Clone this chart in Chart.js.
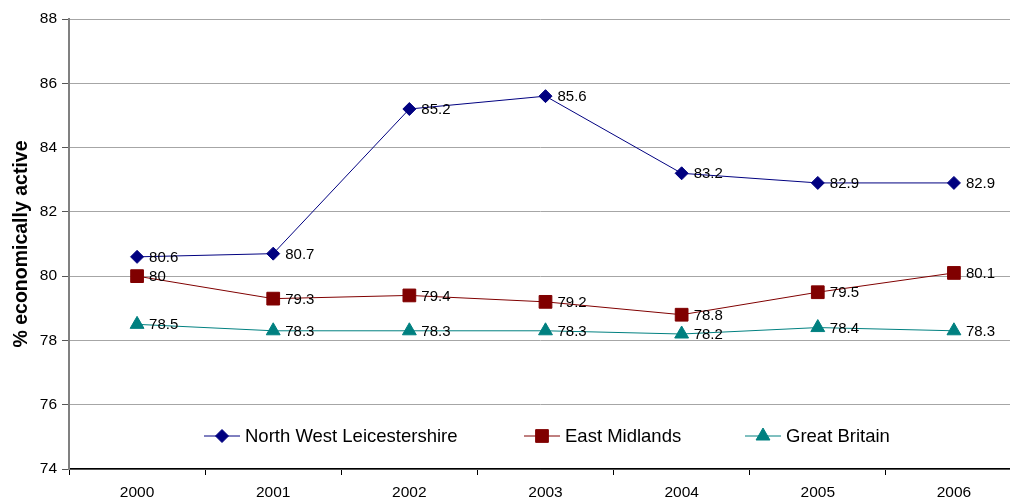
<!DOCTYPE html>
<html lang="en">
<head>
    <meta charset="UTF-8">
    <title>Economic activity rate</title>
    <script src="https://cdn.jsdelivr.net/npm/chart.js"></script>
    <style>
        html, body {
            margin: 0;
            padding: 0;
            overflow: hidden;
            background: #fff;
        }
        canvas {
            display: block;
        }
    </style>
</head>
<body>
    <canvas id="activityChart" width="1010" height="500"></canvas>

    <script>
        const years = ['2000', '2001', '2002', '2003', '2004', '2005', '2006'];
        const northWestLeics = [80.6, 80.7, 85.2, 85.6, 83.2, 82.9, 82.9];
        const eastMidlands = [80, 79.3, 79.4, 79.2, 78.8, 79.5, 80.1];
        const greatBritain = [78.5, 78.3, 78.3, 78.3, 78.2, 78.4, 78.3];
        const seriesNames = ['North West Leicestershire', 'East Midlands', 'Great Britain'];

        const FONT = "'Liberation Sans', Arial, sans-serif";

        function series(label, data, color, style, radius) {
            return {
                label: label,
                data: data,
                borderColor: color,
                backgroundColor: color,
                borderWidth: 1,
                pointStyle: style,
                pointRadius: radius,
                pointHoverRadius: radius,
                pointBorderWidth: 1,
                tension: 0
            };
        }

        // the original is cropped: its plot area runs ~12px past the right edge
        const widePlot = {
            id: 'widePlot',
            afterLayout(chart) {
                const right = 1022;
                const x = chart.scales.x;
                chart.chartArea.right = right;
                chart.chartArea.width = right - chart.chartArea.left;
                x.right = right;
                x.width = right - x.left;
                x.configure();
            }
        };

        // value labels to the right of each point
        const valueLabels = {
            id: 'valueLabels',
            afterDatasetsDraw(chart) {
                const c = chart.ctx;
                c.save();
                c.font = '15px ' + FONT;
                c.fillStyle = '#000';
                c.textAlign = 'left';
                c.textBaseline = 'middle';
                chart.data.datasets.forEach((ds, i) => {
                    chart.getDatasetMeta(i).data.forEach((pt, j) => {
                        c.fillText(String(ds.data[j]), pt.x + 12, pt.y + 1);
                    });
                });
                c.restore();
            }
        };

        // legend drawn inside the plot, near the bottom
        const innerLegend = {
            id: 'innerLegend',
            afterDraw(chart) {
                const c = chart.ctx;
                const y = 436;
                const starts = [204, 524, 745];
                c.save();
                c.font = '18.5px ' + FONT;
                c.textBaseline = 'middle';
                c.textAlign = 'left';
                chart.data.datasets.forEach((ds, i) => {
                    const x0 = starts[i];
                    c.strokeStyle = ds.borderColor;
                    c.fillStyle = ds.backgroundColor;
                    c.lineWidth = 1;
                    c.beginPath();
                    c.moveTo(x0, y);
                    c.lineTo(x0 + 36, y);
                    c.stroke();
                    Chart.helpers.drawPoint(c, {
                        pointStyle: ds.pointStyle,
                        radius: ds.pointRadius,
                        rotation: 0,
                        borderWidth: 1
                    }, x0 + 18, y);
                    c.fillStyle = '#000';
                    c.fillText(seriesNames[i], x0 + 41, y + 1);
                });
                c.restore();
            }
        };

        const ctx = document.getElementById('activityChart').getContext('2d');
        new Chart(ctx, {
            type: 'line',
            data: {
                labels: years,
                datasets: [
                    series(seriesNames[0], northWestLeics, '#000080', 'rectRot', 6.5),
                    series(seriesNames[1], eastMidlands, '#800000', 'rect', 9),
                    series(seriesNames[2], greatBritain, '#008080', 'triangle', 8)
                ]
            },
            options: {
                responsive: false,
                animation: false,
                layout: {
                    autoPadding: false,
                    padding: { top: 19, right: 0, bottom: 0, left: 0 }
                },
                plugins: {
                    legend: { display: false },
                    tooltip: { enabled: false }
                },
                scales: {
                    x: {
                        offset: true,
                        afterFit(scale) { scale.height = 31; },
                        grid: {
                            offset: true,
                            drawOnChartArea: false,
                            tickLength: 6,
                            tickColor: '#000'
                        },
                        border: { color: '#000', width: 1.5 },
                        ticks: {
                            color: '#000',
                            padding: 8,
                            maxRotation: 0,
                            font: { family: FONT, size: 15.5 }
                        }
                    },
                    y: {
                        min: 74,
                        max: 88,
                        afterFit(scale) { scale.width = 69; },
                        grid: {
                            color: '#a6a6a6',
                            tickColor: '#555',
                            tickLength: 7,
                            lineWidth: 1
                        },
                        border: { color: '#808080', width: 2 },
                        ticks: {
                            stepSize: 2,
                            color: '#000',
                            padding: 5,
                            font: { family: FONT, size: 15.5 }
                        },
                        title: {
                            display: true,
                            text: '% economically active',
                            color: '#000',
                            padding: { top: 10, bottom: 0 },
                            font: { family: FONT, size: 19.5, weight: 'bold' }
                        }
                    }
                }
            },
            plugins: [widePlot, valueLabels, innerLegend]
        });
    </script>
</body>
</html>
